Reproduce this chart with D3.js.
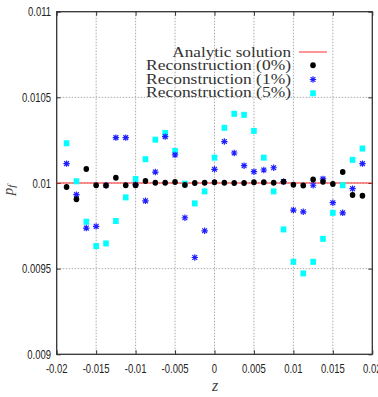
<!DOCTYPE html>
<html><head><meta charset="utf-8">
<script src="https://cdn.jsdelivr.net/npm/d3@7"></script>
<style>body{margin:0;background:#fff}svg{display:block}</style>
</head><body>
<svg id="c" width="378" height="397"></svg>
<script>
const xTicks = [-0.02,-0.015,-0.01,-0.005,0,0.005,0.01,0.015,0.02];
const xTickLabels = ["-0.02","-0.015","-0.01","-0.005","0","0.005","0.01","0.015","0.02"];
const yTicks = [0.009,0.0095,0.01,0.0105,0.011];
const yTickLabels = ["0.009","0.0095","0.01","0.0105","0.011"];
const zValues = [-0.01875,-0.0175,-0.01625,-0.015,-0.01375,-0.0125,-0.01125,-0.01,-0.00875,-0.0075,-0.00625,-0.005,-0.00375,-0.0025,-0.00125,0,0.00125,0.0025,0.00375,0.005,0.00625,0.0075,0.00875,0.01,0.01125,0.0125,0.01375,0.015,0.01625,0.0175,0.01875];
const analytic = [0.01,0.01];
const rec0 = [0.009977,0.009905,0.010082,0.009987,0.009985,0.010031,0.009987,0.009987,0.010012,0.010002,0.010002,0.010006,0.009988,0.01,0.010002,0.010004,0.010002,0.01,0.01,0.010004,0.010004,0.010002,0.010008,0.00999,0.009985,0.010021,0.010008,0.009994,0.010064,0.00993,0.009926];
const rec1 = [0.010113,0.009932,0.009737,0.009747,0.009987,0.010265,0.010265,0.00999,0.009896,0.010064,0.010271,0.010164,0.009797,0.009565,0.009721,0.01008,0.010242,0.010175,0.010101,0.010066,0.010076,0.010089,0.010008,0.009842,0.009832,0.009987,0.010024,0.009885,0.009826,0.009967,0.010113];
const rec5 = [0.010232,0.01001,0.009774,0.009632,0.009647,0.009778,0.009916,0.010023,0.010139,0.010253,0.010292,0.010187,0.009996,0.009881,0.009951,0.010148,0.010322,0.010404,0.010398,0.010304,0.010148,0.009951,0.009729,0.00954,0.009472,0.00954,0.009674,0.009826,0.009987,0.010135,0.010201];
const legendLabels = ["Analytic solution","Reconstruction (0%)","Reconstruction (1%)","Reconstruction (5%)"];

const svg = d3.select("#c");
const L=56.7, R=372.3, T=11.7, B=354.3;
const x = d3.scaleLinear().domain([-0.02,0.02]).range([L,R]);
const y = d3.scaleLinear().domain([0.009,0.011]).range([B,T]);

// grid
const g = svg.append("g");
g.selectAll(".gx").data(xTicks.slice(1,-1)).join("line")
  .attr("x1",d=>x(d)).attr("x2",d=>x(d)).attr("y1",T).attr("y2",B)
  .attr("stroke","#aaa").attr("stroke-width",1).attr("stroke-dasharray","1.5,1.5");
g.selectAll(".gy").data(yTicks.slice(1,-1)).join("line")
  .attr("y1",d=>y(d)).attr("y2",d=>y(d)).attr("x1",L).attr("x2",R)
  .attr("stroke","#aaa").attr("stroke-width",1).attr("stroke-dasharray","1.5,1.5");

// axes with inward ticks on both sides
const axB = d3.axisBottom(x).tickValues(xTicks).tickSize(-4).tickFormat("");
const axT = d3.axisTop(x).tickValues(xTicks).tickSize(-4).tickFormat("");
const axLft = d3.axisLeft(y).tickValues(yTicks).tickSize(-4).tickFormat("");
const axRt = d3.axisRight(y).tickValues(yTicks).tickSize(-4).tickFormat("");
[[axB,`translate(0,${B})`],[axT,`translate(0,${T})`],[axLft,`translate(${L},0)`],[axRt,`translate(${R},0)`]].forEach(([a,t])=>{
  const ga = svg.append("g").attr("transform",t).call(a);
  ga.selectAll("path").attr("stroke","none");
  ga.selectAll("line").attr("stroke","#333");
});
svg.append("rect").attr("x",L).attr("y",T).attr("width",R-L).attr("height",B-T)
  .attr("fill","none").attr("stroke","#333").attr("stroke-width",1.3);

// tick labels (condensed sans)
const lblFont = "'Liberation Sans', Arial, sans-serif";
svg.selectAll(".xl").data(xTicks).join("text")
  .attr("transform",d=>`translate(${x(d)},373) scale(0.73,1)`)
  .attr("text-anchor","middle").attr("font-family",lblFont).attr("font-size",13).attr("fill","#222")
  .text((d,i)=>xTickLabels[i]);
svg.selectAll(".yl").data(yTicks).join("text")
  .attr("transform",d=>`translate(51,${y(d)+4.5}) scale(0.73,1)`)
  .attr("text-anchor","end").attr("font-family",lblFont).attr("font-size",13).attr("fill","#222")
  .text((d,i)=>yTickLabels[i]);

// axis titles
svg.append("text").attr("x",215).attr("y",391).attr("text-anchor","middle")
  .attr("font-family","'Liberation Serif', serif").attr("font-style","italic").attr("font-size",16).attr("fill","#444").text("z");
const yt = svg.append("text").attr("transform","translate(13,190) rotate(-90)").attr("text-anchor","middle")
  .attr("font-family","'Liberation Serif', serif").attr("font-style","italic").attr("font-size",15).attr("fill","#444");
yt.append("tspan").text("p");
yt.append("tspan").attr("font-size",11).attr("dy",2).text("f");

// analytic line
svg.append("line").attr("x1",x(-0.02)).attr("x2",x(0.02)).attr("y1",y(analytic[0])).attr("y2",y(analytic[1]))
  .attr("stroke","#ff2a2a").attr("stroke-width",1);

// star symbol
function star(sel,cx,cy,s){
  const p = `M${cx-s},${cy}L${cx+s},${cy}M${cx},${cy-s}L${cx},${cy+s}M${cx-s*0.75},${cy-s*0.75}L${cx+s*0.75},${cy+s*0.75}M${cx-s*0.75},${cy+s*0.75}L${cx+s*0.75},${cy-s*0.75}`;
  sel.append("path").attr("d",p).attr("stroke","#2020ff").attr("stroke-width",1.2).attr("fill","none");
}

// series: draw 5%, 1%, then 0%
svg.append("g").selectAll("rect").data(zValues).join("rect")
  .attr("x",(d)=>x(d)-2.8).attr("y",(d,i)=>y(rec5[i])-3).attr("width",5.6).attr("height",6).attr("fill","#00ffff");
const gs = svg.append("g");
zValues.forEach((d,i)=>star(gs,x(d),y(rec1[i]),3.2));
svg.append("g").selectAll("ellipse").data(zValues).join("ellipse")
  .attr("cx",d=>x(d)).attr("cy",(d,i)=>y(rec0[i])).attr("rx",2.8).attr("ry",3).attr("fill","#000");

// legend
const legY = [57,70.3,83.6,97];
const legW = [118.7,145,145,145];
const lg = svg.append("g");
legendLabels.forEach((t,i)=>{
  lg.append("text").attr("x",291).attr("y",legY[i]).attr("text-anchor","end")
    .attr("font-family","'Liberation Serif', serif").attr("font-size",14).attr("fill","#333")
    .attr("textLength",legW[i]).attr("lengthAdjust","spacingAndGlyphs").text(t);
});
lg.append("line").attr("x1",299).attr("x2",327).attr("y1",52).attr("y2",52).attr("stroke","#ff2a2a").attr("stroke-width",1);
lg.append("ellipse").attr("cx",313).attr("cy",65.3).attr("rx",2.8).attr("ry",3).attr("fill","#000");
star(lg,313,79.5,3.2);
lg.append("rect").attr("x",313-2.8).attr("y",93.3-3).attr("width",5.6).attr("height",6).attr("fill","#00ffff");
</script>
</body></html>
